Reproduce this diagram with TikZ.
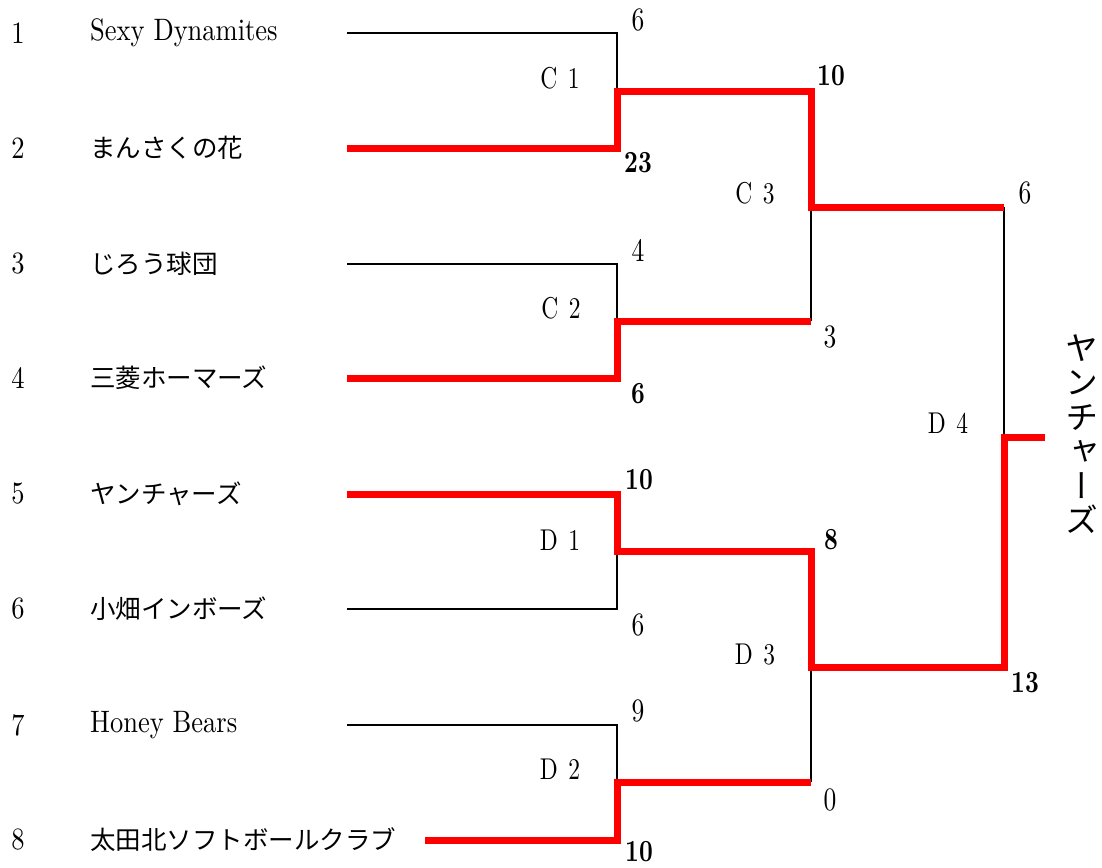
\documentclass[tikz,border=0pt]{standalone}
\usepackage{graphicx}
\usepackage{fontspec}
\setmainfont{lmroman10-regular.otf}[BoldFont=lmroman10-bold.otf]
\newfontfamily\jp{Noto Sans CJK JP}
\newfontfamily\jpv[RawFeature=+vert]{Noto Sans CJK JP}
\newcommand{\tallA}[1]{\scalebox{1}[1.17]{#1}}
\newcommand{\tallB}[1]{\scalebox{1}[1.28]{#1}}
\begin{document}
\begin{tikzpicture}[x=1pt,y=-1pt,
  lat/.style={font=\fontsize{26.5}{30}\selectfont, inner sep=0pt},
  jpn/.style={font=\jp\fontsize{25.5}{30}\selectfont, inner sep=0pt},
  seed/.style={lat, anchor=center},
  team/.style={anchor=west},
  score/.style={font=\fontsize{25.5}{30}\selectfont, inner sep=0pt},
  win/.style={font=\bfseries\fontsize{24}{30}\selectfont, inner sep=0pt},
  rnd/.style={font=\fontsize{23.5}{30}\selectfont, inner sep=0pt},
  loser/.style={draw=black, line width=2.8pt},
  winner/.style={draw=red, line width=7pt, line join=miter}]
\useasboundingbox (0,0) rectangle (1102,867);
% seeds
\foreach \i/\y in {1/33,2/148,3/264,4/378,5/494,6/609,7/725,8/840}
  \node[seed] (n\i) at (18,\y) {\tallA{\i}};
% team names
\node[lat,team] (t1) at (90,33) {\tallA{Sexy Dynamites}};
\node[jpn,team] (t2) at (90,148) {まんさくの花};
\node[jpn,team] (t3) at (90,264) {じろう球団};
\node[jpn,team] (t4) at (90,378) {三菱ホーマーズ};
\node[jpn,team] (t5) at (90,494) {ヤンチャーズ};
\node[jpn,team] (t6) at (90,609) {小畑インボーズ};
\node[lat,team] (t7) at (90,725) {\tallA{Honey Bears}};
\node[jpn,team] (t8) at (90,840) {太田北ソフトボールクラブ};
% coordinates
\coordinate (s1) at (347,33);  \coordinate (e1) at (617,33);
\coordinate (s2) at (347,148); \coordinate (e2) at (617,148);
\coordinate (s3) at (347,264); \coordinate (e3) at (617,264);
\coordinate (s4) at (347,378); \coordinate (e4) at (617,378);
\coordinate (s5) at (347,494); \coordinate (e5) at (617,494);
\coordinate (s6) at (347,609); \coordinate (e6) at (617,609);
\coordinate (s7) at (347,725); \coordinate (e7) at (617,725);
\coordinate (s8) at (425,840); \coordinate (e8) at (617,840);
\coordinate (j1) at (617,91);  \coordinate (m1) at (811,91);
\coordinate (j2) at (617,321); \coordinate (m2) at (811,321);
\coordinate (j3) at (617,551); \coordinate (m3) at (811,551);
\coordinate (j4) at (617,782); \coordinate (m4) at (811,782);
\coordinate (k1) at (811,207); \coordinate (q1) at (1004,207);
\coordinate (k2) at (811,667); \coordinate (q2) at (1004,667);
\coordinate (f) at (1004,437); \coordinate (fe) at (1045,437);
% losing paths
\draw[loser] (s1) -- (e1) -- (j1);
\draw[loser] (s3) -- (e3) -- (j2);
\draw[loser] (s6) -- (e6) -- (j3);
\draw[loser] (s7) -- (e7) -- (j4);
\draw[loser] (k1) -- (m2);
\draw[loser] (k2) -- (m4);
\draw[loser] (q1) -- (f);
% winning paths
\draw[winner] (s2) -- (e2) -- (j1) -- (m1) -- (k1) -- (q1);
\draw[winner] (s4) -- (e4) -- (j2) -- (m2);
\draw[winner] (s5) -- (e5) -- (j3) -- (m3) -- (k2) -- (q2) -- (f) -- (fe);
\draw[winner] (s8) -- (e8) -- (j4) -- (m4);
% scores
\node[score] (p1) at (638,20) {\tallB{6}};
\node[win] (p2) at (638,163) {\tallB{23}};
\node[score] (p3) at (638,250) {\tallB{4}};
\node[win] (p4) at (638,394) {\tallB{6}};
\node[win] (p5) at (639,480) {\tallB{10}};
\node[score] (p6) at (638,625) {\tallB{6}};
\node[score] (p7) at (638,711) {\tallB{9}};
\node[win] (p8) at (639,852) {\tallB{10}};
\node[win] (q1s) at (831,76) {\tallB{10}};
\node[score] (q2s) at (830,337) {\tallB{3}};
\node[win] (q3s) at (831,540) {\tallB{8}};
\node[score] (q4s) at (830,800) {\tallB{0}};
\node[score] (r1s) at (1025,193) {\tallB{6}};
\node[win] (r2s) at (1025,683) {\tallB{13}};
% round labels
\node[rnd] (c1) at (560,78) {\tallB{C\hspace{0.45em}1}};
\node[rnd] (c2) at (561,308) {\tallB{C\hspace{0.45em}2}};
\node[rnd] (c3) at (755,193) {\tallB{C\hspace{0.45em}3}};
\node[rnd] (d1) at (560,540) {\tallB{D\hspace{0.45em}1}};
\node[rnd] (d2) at (560,769) {\tallB{D\hspace{0.45em}2}};
\node[rnd] (d3) at (755,655) {\tallB{D\hspace{0.45em}3}};
\node[rnd] (d4) at (948,423) {\tallB{D\hspace{0.45em}4}};
% champion (vertical)
\node[font=\jpv\fontsize{33}{34.5}\selectfont, inner sep=0pt, align=center] (champ) at (1082,434)
  {ヤ\\ン\\チ\\ャ\\ー\\ズ};
\end{tikzpicture}
\end{document}
